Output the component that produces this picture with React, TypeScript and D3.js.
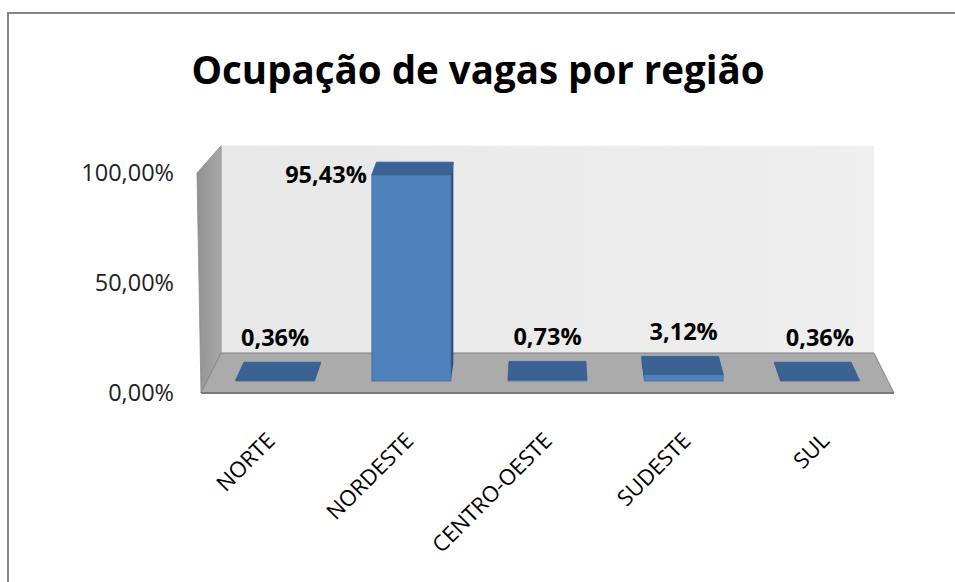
import React from "react";
import * as d3 from "d3";

const categories = ["NORTE", "NORDESTE", "CENTRO-OESTE", "SUDESTE", "SUL"];
const values = [0.36, 95.43, 0.73, 3.12, 0.36];
const valueLabels = ["0,36%", "95,43%", "0,73%", "3,12%", "0,36%"];
const yTicks = [0, 50, 100];
const yTickLabels = ["0,00%", "50,00%", "100,00%"];
const title = "Ocupação de vagas por região";

const W = 955;
const H = 582;
const FONT = "'Open Sans', 'DejaVu Sans', sans-serif";

// perspective
const VX = 547.5;
const VY = -297;
const S_BACK = 0.942;
const S_BAR_FRONT = 0.9826;
const S_BAR_BACK = 0.9565;

const proj = (x: number, y: number, s: number): [number, number] => [
  VX + (x - VX) * s,
  VY + (y - VY) * s,
];
const poly = (pts: [number, number][]) => pts.map((p) => p.join(",")).join(" ");

export default function App() {
  const x = d3
    .scaleBand<string>()
    .domain(categories)
    .range([201, 894])
    .paddingInner(0.42)
    .paddingOuter(0.21);
  const y = d3.scaleLinear().domain([0, 100]).range([393, 173]);

  const [x0, x1] = x.range();
  const y0 = y(0);
  const yTop = y(100);

  const backWall = [
    proj(x0, y0, S_BACK),
    proj(x1, y0, S_BACK),
    proj(x1, yTop, S_BACK),
    proj(x0, yTop, S_BACK),
  ] as [number, number][];
  const leftWall = [
    [x0 - 4, yTop],
    proj(x0, yTop, S_BACK),
    proj(x0, y0, S_BACK),
    [x0, y0],
  ] as [number, number][];
  const floor = [
    [x0, y0],
    [x1, y0],
    proj(x1, y0, S_BACK),
    proj(x0, y0, S_BACK),
  ] as [number, number][];
  const backTopY = proj(x0, yTop, S_BACK)[1];

  return (
    <svg
      width={W}
      height={H}
      style={{ position: "fixed", left: 0, top: 0, background: "#fff" }}
    >
      <defs>
        <linearGradient id="bw" x1="0" y1="0" x2="1" y2="0">
          <stop offset="0" stopColor="#e7e7e7" />
          <stop offset="1" stopColor="#efefef" />
        </linearGradient>
        <linearGradient id="lw" x1="0" y1="0" x2="1" y2="0">
          <stop offset="0" stopColor="#929292" />
          <stop offset="1" stopColor="#a8a8a8" />
        </linearGradient>
      </defs>
      <rect x={8} y={13} width={1200} height={800} fill="#fff" stroke="#868686" strokeWidth={2} />

      <text
        x={478}
        y={84}
        textAnchor="middle"
        fontFamily={FONT}
        fontWeight="bold"
        fontSize={38.5}
        fill="#000"
      >
        {title}
      </text>

      {/* walls and floor */}
      <polygon points={poly(backWall)} fill="url(#bw)" />
      <polygon points={poly(leftWall)} fill="url(#lw)" stroke="#8a8a8a" strokeWidth={0.8} />
      <polygon points={poly(floor)} fill="#ababab" stroke="#858585" strokeWidth={1} />
      <line x1={x0} x2={x1} y1={y0} y2={y0} stroke="#7a7a7a" strokeWidth={2} />

      {/* y tick labels */}
      {yTicks.map((t, i) => (
        <text
          key={t}
          x={174}
          y={y(t)}
          dy="0.36em"
          textAnchor="end"
          fontFamily={FONT}
          fontSize={23.5}
          fill="#222"
        >
          {yTickLabels[i]}
        </text>
      ))}

      {/* bars */}
      {categories.map((c, i) => {
        const bx0 = x(c)!;
        const bx1 = bx0 + x.bandwidth();
        const cx = bx0 + x.bandwidth() / 2;
        const h = y(values[i]);
        const front = [
          proj(bx0, y0, S_BAR_FRONT),
          proj(bx1, y0, S_BAR_FRONT),
          proj(bx1, h, S_BAR_FRONT),
          proj(bx0, h, S_BAR_FRONT),
        ] as [number, number][];
        const top = [
          proj(bx0, h, S_BAR_FRONT),
          proj(bx1, h, S_BAR_FRONT),
          proj(bx1, h, S_BAR_BACK),
          proj(bx0, h, S_BAR_BACK),
        ] as [number, number][];
        const sx = cx < VX ? bx1 : bx0;
        const side = [
          proj(sx, y0, S_BAR_FRONT),
          proj(sx, h, S_BAR_FRONT),
          proj(sx, h, S_BAR_BACK),
          proj(sx, y0, S_BAR_BACK),
        ] as [number, number][];

        const [lx] = proj(cx, h, S_BAR_FRONT);
        const backY = proj(cx, h, S_BAR_BACK)[1];
        let labelX = lx;
        let labelY = backY - 16;
        let anchor: "middle" | "end" = "middle";
        if (labelY - 16 < backTopY) {
          anchor = "end";
          labelX = proj(bx0, h, S_BAR_FRONT)[0] - 5;
          labelY = proj(bx0, h, S_BAR_FRONT)[1] + 8;
        }
        return (
          <g key={c}>
            <polygon points={poly(side)} fill="#2d527f" />
            <polygon points={poly(front)} fill="#4f81bd" stroke="#3f6ea5" strokeWidth={0.8} />
            <polygon points={poly(top)} fill="#3b6292" stroke="#34598a" strokeWidth={0.8} />
            <text
              x={labelX}
              y={labelY}
              textAnchor={anchor}
              fontFamily={FONT}
              fontWeight="bold"
              fontSize={23.5}
              fill="#000"
            >
              {valueLabels[i]}
            </text>
          </g>
        );
      })}

      {/* category labels */}
      {categories.map((c) => {
        const ax = x(c)! + x.bandwidth() / 2 + 6;
        const ay = 442;
        return (
          <text
            key={c}
            transform={`translate(${ax},${ay}) rotate(-45)`}
            textAnchor="end"
            fontFamily={FONT}
            fontSize={22}
            fill="#000"
          >
            {c}
          </text>
        );
      })}
    </svg>
  );
}
